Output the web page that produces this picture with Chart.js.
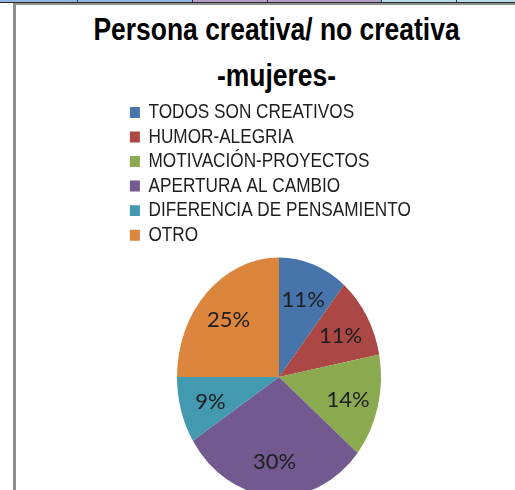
<!DOCTYPE html>
<html>
<head>
<meta charset="utf-8">
<script src="https://cdn.jsdelivr.net/npm/chart.js@4.4.1/dist/chart.umd.min.js"></script>
<style>
  html, body { margin: 0; padding: 0; background: #fff; }
  body { width: 515px; height: 490px; position: relative; overflow: hidden; }
  /* spreadsheet cells peeking above the chart frame */
  .cells { position: absolute; left: 0; top: 0; width: 515px; height: 2px; }
  .cells div { position: absolute; top: 0; height: 2px; }
  .cells .sep { width: 1px; background: #333; }
  .rule { position: absolute; left: 0; top: 2px; width: 515px; height: 1px; background: #2b2b2b; }
  .frame-top { position: absolute; left: 13px; top: 3px; width: 502px; height: 2px; background: #8e8e8e; }
  .frame-left { position: absolute; left: 13px; top: 3px; width: 3px; height: 487px; background: #8e8e8e; }
  .title {
    position: absolute; left: 0; top: 6px; width: 553px;
    text-align: center; color: #000;
    font: bold 31.5px 'Liberation Sans', Arial, sans-serif;
    line-height: 46px;
    transform: scaleX(0.84);
    transform-origin: 276.5px 0;
  }
  #chart { position: absolute; left: 127px; top: 0; }
</style>
</head>
<body>
<div class="cells">
  <div style="left:0;width:192px;background:#8db4e2"></div>
  <div style="left:192px;width:189px;background:#b1a0c7"></div>
  <div style="left:381px;width:134px;background:#b7dee8"></div>
  <div class="sep" style="left:77px"></div>
  <div class="sep" style="left:192px"></div>
  <div class="sep" style="left:267px"></div>
  <div class="sep" style="left:381px"></div>
  <div class="sep" style="left:456px"></div>
</div>
<div class="rule"></div>
<div class="frame-top"></div>
<div class="frame-left"></div>
<div class="title">Persona creativa/ no creativa<br>-mujeres-</div>
<canvas id="chart" width="304" height="490"></canvas>
<script>
let categories = ['TODOS SON CREATIVOS', 'HUMOR-ALEGRIA', 'MOTIVACIÓN-PROYECTOS', 'APERTURA AL CAMBIO', 'DIFERENCIA DE PENSAMIENTO', 'OTRO'];
let shares = [11, 11, 14, 30, 9, 25];
let colors = ['#4674AB', '#AB4744', '#8BA94F', '#72598F', '#4299B0', '#DC853D'];

// the pie is drawn a bit taller than wide
const STRETCH = 1.17;
// legend lettering is tall and condensed
const TALL = 1.22;

const chartLook = {
  id: 'chartLook',
  beforeDraw(chart) {
    const {ctx, legend} = chart;
    ctx.save();
    ctx.translate(0, legend.top);
    ctx.scale(1, TALL);
    ctx.translate(0, -legend.top);
  },
  beforeDatasetsDraw(chart) {
    const {ctx} = chart;
    ctx.restore();
    const arc = chart.getDatasetMeta(0).data[0];
    const top = arc.y - arc.outerRadius;
    ctx.save();
    ctx.translate(0, top);
    ctx.scale(1, STRETCH);
    ctx.translate(0, -top);
  },
  afterDatasetsDraw(chart) {
    const {ctx} = chart;
    ctx.restore();

    // percentage labels inside each slice
    const meta = chart.getDatasetMeta(0);
    ctx.save();
    ctx.font = '22px Lato';
    ctx.fillStyle = '#1e1e1e';
    ctx.textAlign = 'center';
    ctx.textBaseline = 'middle';
    meta.data.forEach((arc, i) => {
      const p = arc.getProps(['x', 'y', 'startAngle', 'endAngle', 'outerRadius']);
      const top = p.y - p.outerRadius;
      const mid = (p.startAngle + p.endAngle) / 2;
      const r = p.outerRadius * 0.7;
      const lx = p.x + Math.cos(mid) * r;
      const ly = top + (p.y + Math.sin(mid) * r - top) * STRETCH;
      ctx.fillText(shares[i] + '%', lx, ly + 2);
    });
    ctx.restore();
  }
};

let ctx = document.getElementById('chart').getContext('2d');

let chart = new Chart(ctx, {
  type: 'pie',
  data: {
    labels: categories,
    datasets: [{
      data: shares,
      backgroundColor: colors,
      borderWidth: 0
    }]
  },
  options: {
    responsive: false,
    animation: false,
    events: [],
    radius: 102,
    layout: {
      padding: { top: 98.5, bottom: 0, left: 0, right: 0 }
    },
    plugins: {
      legend: {
        position: 'top',
        align: 'start',
        labels: {
          boxWidth: 10,
          boxHeight: 9,
          padding: 2.9,
          color: '#1e1e1e',
          font: { family: "'Liberation Sans', Arial, sans-serif", size: 17.2 }
        }
      },
      tooltip: { enabled: false }
    }
  },
  plugins: [chartLook]
});
</script>
</body>
</html>
